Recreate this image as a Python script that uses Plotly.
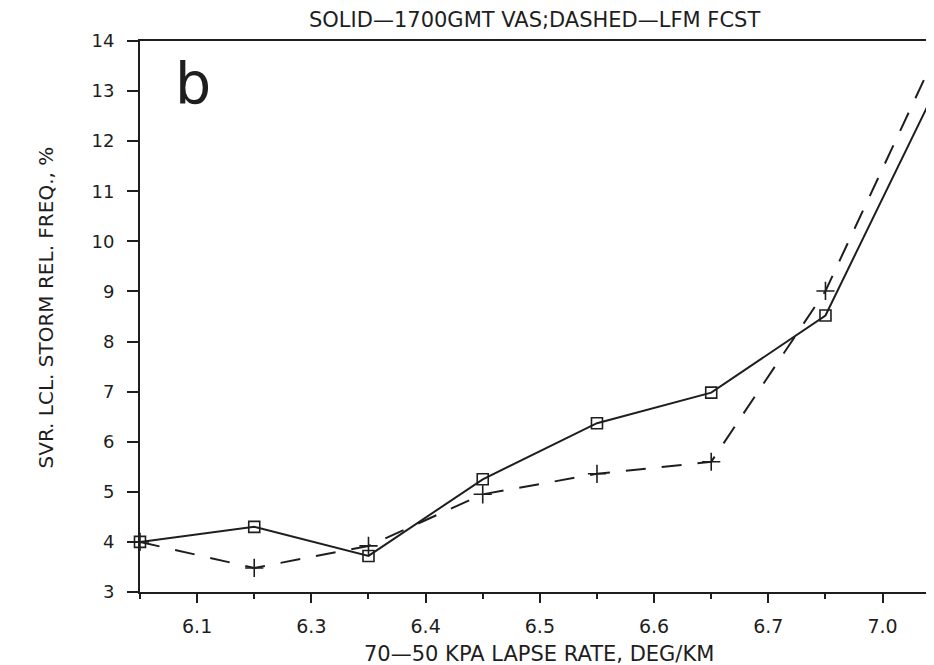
import plotly.graph_objects as go

# category positions (bins) and tick labels between them
bins = [0, 1, 2, 3, 4, 5, 6, 7]
tick_pos = [0.5, 1.5, 2.5, 3.5, 4.5, 5.5, 6.5]
tick_labels = ["6.1", "6.3", "6.4", "6.5", "6.6", "6.7", "7.0"]

vas_solid = [4.0, 4.3, 3.72, 5.25, 6.37, 6.98, 8.52, 13.2]
lfm_dashed = [4.0, 3.48, 3.92, 4.95, 5.36, 5.6, 9.01, 13.9]

ink = "#1e1e1e"
font = "DejaVu Sans"

fig = go.Figure()
fig.add_trace(go.Scatter(
    x=bins, y=lfm_dashed, mode="lines+markers", cliponaxis=False,
    line=dict(color=ink, width=2, dash="20px,16px"),
    marker=dict(symbol="cross-thin-open", size=13, line=dict(color=ink, width=1.6)),
    showlegend=False))
fig.add_trace(go.Scatter(
    x=bins, y=vas_solid, mode="lines+markers", cliponaxis=False,
    line=dict(color=ink, width=2),
    marker=dict(symbol="square-open", size=11, color=ink, line=dict(color=ink, width=1.6)),
    showlegend=False))

fig.update_layout(
    width=926, height=657,
    margin=dict(l=132, r=0, t=33, b=73),
    paper_bgcolor="white", plot_bgcolor="white",
    font=dict(family=font, color=ink, size=15),
    xaxis=dict(
        range=[0, 6.95], showgrid=False, zeroline=False,
        showline=True, linecolor=ink, linewidth=2, mirror=True,
        tickmode="array", tickvals=tick_pos, ticktext=tick_labels,
        ticks="outside", ticklen=9, tickwidth=2, tickcolor=ink,
        ticklabelstandoff=7,
        tickfont=dict(size=19, family=font),
        minor=dict(tickmode="array", tickvals=bins, ticks="outside", ticklen=5, tickwidth=2, tickcolor=ink),
    ),
    yaxis=dict(
        range=[3, 14], showgrid=False, zeroline=False,
        showline=True, linecolor=ink, linewidth=2,
        tickmode="linear", tick0=3, dtick=1,
        ticks="outside", ticklen=11, tickwidth=2, tickcolor=ink,
        ticklabelstandoff=9,
        tickfont=dict(size=18, family=font),
    ),
    annotations=[
        dict(text="SOLID\u20141700GMT VAS;DASHED\u2014LFM FCST", xref="paper", yref="paper",
             x=0.497, y=1.038, showarrow=False,
             font=dict(size=21, family=font, color=ink), xanchor="center", yanchor="middle"),
        dict(text="70\u201450 KPA LAPSE RATE, DEG/KM", xref="paper", yref="paper",
             x=0.502, y=-0.1125, showarrow=False,
             font=dict(size=21, family=font, color=ink), xanchor="center", yanchor="middle"),
        dict(text="SVR. LCL. STORM REL. FREQ., %", xref="paper", yref="paper",
             x=-0.118, y=0.517, showarrow=False, textangle=-90,
             font=dict(size=20, family=font, color=ink), xanchor="center", yanchor="middle"),
        dict(text="b", xref="paper", yref="paper",
             x=0.0667, y=0.923, showarrow=False,
             font=dict(size=57, family=font, color=ink), xanchor="center", yanchor="middle"),
    ],
)

fig.write_html("out.html")
